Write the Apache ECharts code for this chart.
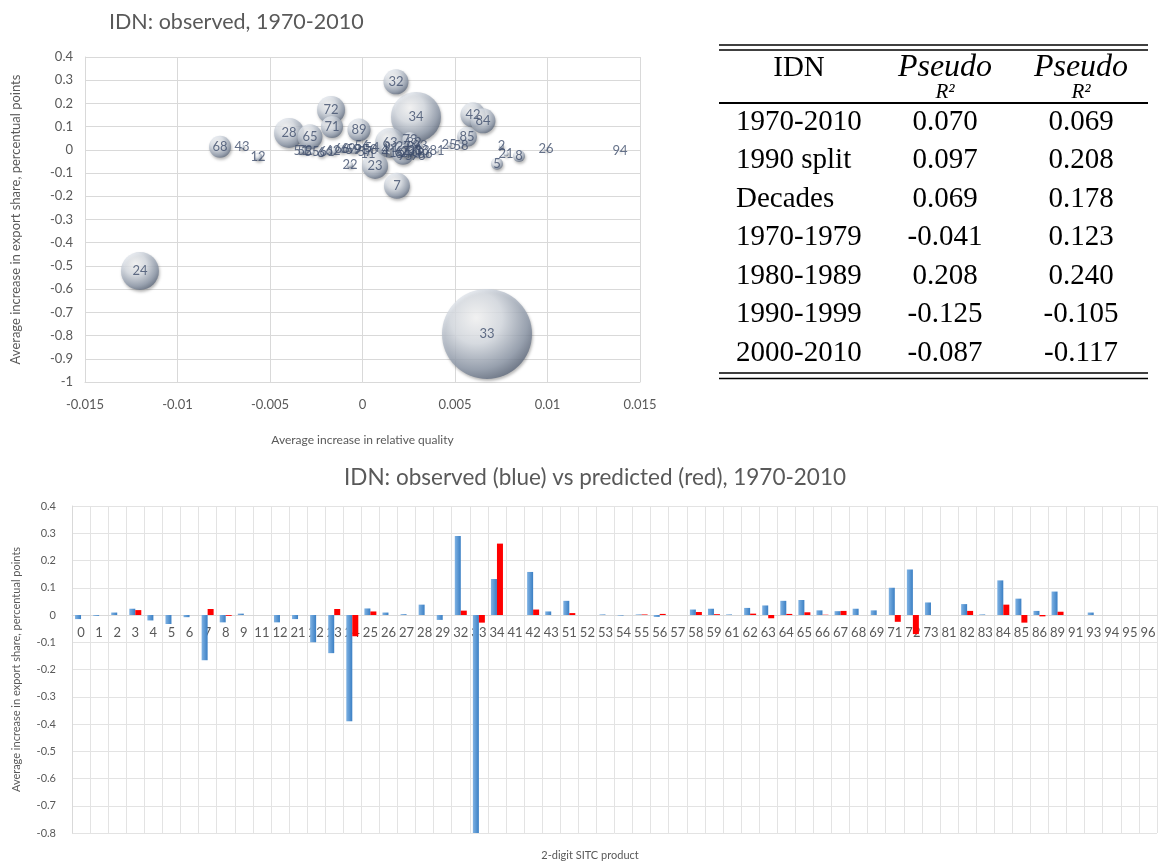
<!DOCTYPE html>
<html>
<head>
<meta charset="utf-8">
<script src="https://cdn.jsdelivr.net/npm/echarts@6/dist/echarts.min.js"></script>
<style>html,body{margin:0;padding:0;background:#fff;}#c{width:1168px;height:862px;}</style>
</head>
<body>
<div id="c"></div>
<script>
// ---------- Scatter (bubble) data ----------
const bubbleNames = ['24','33','34','32','72','71','28','65','89','63','23','7','22','42','84','85','25','58','81','2','21','8','5','26','94','68','43','12','51','52','55','6','61','62','66','69','59','9','57','53','54','56','11','73','82','64','67','27','29','3','0','1','4','41','83','86','91','93','95','96'];
const bubbleX = [-0.01203,0.00673,0.00289,0.00181,-0.00170,-0.00165,-0.00397,-0.00284,-0.00019,0.00149,0.00068,0.00186,-0.00068,0.00597,0.00651,0.00565,0.00468,0.00532,0.00403,0.00751,0.00776,0.00846,0.00727,0.00992,0.01392,-0.00770,-0.00651,-0.00565,-0.00332,-0.00311,-0.00273,-0.00224,-0.00192,-0.00159,-0.00111,-0.00078,-0.00051,-0.00024,0.00014,0.00041,0.00051,-0.00003,0.00030,0.00257,0.00278,0.00219,0.00214,0.00220,0.00243,0.00264,0.00289,0.00305,0.00122,0.00143,0.00322,0.00338,0.00154,0.00311,0.00230,0.00300];
const bubbleY = [-0.522,-0.793,0.142,0.293,0.172,0.099,0.073,0.056,0.086,0.030,-0.069,-0.155,-0.065,0.151,0.125,0.056,0.022,0.017,-0.004,0.017,-0.017,-0.026,-0.060,0.004,-0.004,0.013,0.013,-0.030,-0.004,-0.004,-0.009,-0.013,-0.009,-0.004,0.004,0.004,0.000,0.000,-0.009,0.000,0.009,0.017,-0.017,0.043,0.030,-0.017,-0.009,0.013,-0.013,-0.004,-0.013,0.000,0.000,-0.013,-0.004,-0.017,0.009,0.017,-0.026,-0.026];
const bubbleSize = [38,90,50,25,28,22,30,25,23,30,26,26,6,25,25,20,5,5,4,5,5,12,12,4,2,22,5,8,6,6,5,8,5,8,8,6,8,5,4,4,4,4,3,16,14,22,10,4,6,8,10,4,8,3,4,8,3,5,3,3];

// ---------- Bar data ----------
const categories = ['0','1','2','3','4','5','6','7','8','9','11','12','21','22','23','24','25','26','27','28','29','32','33','34','41','42','43','51','52','53','54','55','56','57','58','59','61','62','63','64','65','66','67','68','69','71','72','73','81','82','83','84','85','86','89','91','93','94','95','96'];
const observed = [-0.015,-0.003,0.009,0.023,-0.02,-0.033,-0.008,-0.166,-0.027,0.005,0,-0.027,-0.015,-0.1,-0.14,-0.39,0.024,0.009,0.003,0.038,-0.018,0.29,-0.8,0.132,0,0.158,0.013,0.052,0,0.002,-0.002,0.002,-0.007,0,0.02,0.023,0.002,0.026,0.035,0.052,0.055,0.017,0.014,0.023,0.017,0.1,0.167,0.046,0,0.04,0.002,0.127,0.06,0.015,0.086,0,0.009,0,0,0];
const predicted = [0,0,0,0.018,0,0,0,0.022,-0.003,0,0,0,0,0,0.022,-0.078,0.013,0,0,0,0,0.016,-0.028,0.262,0,0.02,0,0.007,0,0,0,0.002,0.004,0,0.011,0.003,0,0.005,-0.012,0.004,0.01,0.001,0.015,0,0,-0.025,-0.07,0,0,0.015,0,0.038,-0.028,-0.005,0.012,0,0,0,0,0];

// ---------- Table data ----------
const tableHeader = ['IDN','Pseudo','Pseudo'];
const tableRows = ['1970-2010','1990 split','Decades','1970-1979','1980-1989','1990-1999','2000-2010'];
const tableCol1 = ['0.070','0.097','0.069','-0.041','0.208','-0.125','-0.087'];
const tableCol2 = ['0.069','0.208','0.178','0.123','0.240','-0.105','-0.117'];

// ---------- build ----------
const FONT = 'Lato';
const TXT = '#595959';
const GRID = '#d9d9d9';

const bubbleData = bubbleNames.map((n, i) => ({name: n, value: [bubbleX[i], bubbleY[i], bubbleSize[i]]}))
  .sort((a, b) => b.value[2] - a.value[2]);

const sphere = {
  type: 'radial', x: 0.38, y: 0.32, r: 0.72,
  colorStops: [
    {offset: 0, color: '#ffffff'},
    {offset: 0.4, color: '#dde2e9'},
    {offset: 0.8, color: '#8f9aab'},
    {offset: 1, color: '#5d687b'}
  ]
};

const graphics = [];
const serif = 'Liberation Serif';
const cx0 = 799, cx1 = 945, cx2 = 1081;
const rule = (y, w) => ({type: 'line', shape: {x1: 719, y1: y, x2: 1148, y2: y}, style: {stroke: '#000', lineWidth: w}});
graphics.push(rule(45, 1.6), rule(50, 1.6), rule(103, 1.8), rule(373, 1.6), rule(378.5, 1.6));
graphics.push({type: 'text', x: cx0, y: 68, style: {text: tableHeader[0], font: '29px "' + serif + '"', fill: '#000', align: 'center', verticalAlign: 'middle'}});
[cx1, cx2].forEach((cx, k) => {
  graphics.push({type: 'text', x: cx, y: 68, style: {text: tableHeader[k + 1], font: 'italic 32px "' + serif + '"', fill: '#000', align: 'center', verticalAlign: 'middle'}});
  graphics.push({type: 'text', x: cx, y: 92, style: {text: 'R²', font: 'italic 21px "' + serif + '"', fill: '#000', align: 'center', verticalAlign: 'middle'}});
});
tableRows.forEach((r, i) => {
  const y = 122 + i * 38.5;
  graphics.push({type: 'text', x: 736, y: y, style: {text: r, font: '29px "' + serif + '"', fill: '#000', align: 'left', verticalAlign: 'middle'}});
  graphics.push({type: 'text', x: cx1, y: y, style: {text: tableCol1[i], font: '29px "' + serif + '"', fill: '#000', align: 'center', verticalAlign: 'middle'}});
  graphics.push({type: 'text', x: cx2, y: y, style: {text: tableCol2[i], font: '29px "' + serif + '"', fill: '#000', align: 'center', verticalAlign: 'middle'}});
});

const fmt = d => v => String(+v.toFixed(d));

// bottom grid geometry (for placing category axis at zero)
const g2Top = 506, g2Bottom = 29, g2H = 862 - g2Top - g2Bottom;
const yMin2 = -0.8, yMax2 = 0.4;
const zeroOffset = -(g2H * (0 - yMin2) / (yMax2 - yMin2));

const option = {
  animation: false,
  textStyle: {fontFamily: FONT},
  title: [
    {text: 'IDN: observed, 1970-2010', left: 104, top: 6, textStyle: {fontFamily: FONT, fontSize: 21.5, fontWeight: 'normal', color: TXT}},
    {text: 'IDN: observed (blue) vs predicted (red), 1970-2010', left: 590, textAlign: 'center', top: 461, textStyle: {fontFamily: FONT, fontSize: 22.5, fontWeight: 'normal', color: TXT}},
    {text: '2-digit SITC product', left: 585, textAlign: 'center', top: 845, textStyle: {fontFamily: FONT, fontSize: 11, fontWeight: 'normal', color: TXT}}
  ],
  grid: [
    {left: 85, right: 528, top: 57, bottom: 480},
    {left: 72, right: 11, top: g2Top, bottom: g2Bottom}
  ],
  xAxis: [
    {type: 'value', gridIndex: 0, min: -0.015, max: 0.015, interval: 0.005,
      name: 'Average increase in relative quality', nameLocation: 'middle', nameGap: 52,
      nameTextStyle: {color: TXT, fontSize: 12},
      axisLine: {onZero: false, lineStyle: {color: GRID}}, axisTick: {show: false},
      axisLabel: {color: TXT, fontSize: 13, margin: 16, formatter: fmt(4)},
      splitLine: {lineStyle: {color: GRID}}},
    {type: 'category', gridIndex: 1, data: categories, position: 'bottom', offset: zeroOffset,
      axisLine: {onZero: false, lineStyle: {color: GRID}}, axisTick: {show: false},
      axisLabel: {interval: 0, color: TXT, fontSize: 13, margin: 11},
      splitLine: {show: true, interval: 0, lineStyle: {color: '#e3e3e3'}}}
  ],
  yAxis: [
    {type: 'value', gridIndex: 0, min: -1, max: 0.4, interval: 0.1,
      name: 'Average increase in export share, percentual points', nameLocation: 'middle', nameGap: 63,
      nameTextStyle: {color: TXT, fontSize: 13},
      axisLine: {show: true, onZero: false, lineStyle: {color: GRID}}, axisTick: {show: false},
      axisLabel: {color: TXT, fontSize: 13, margin: 12, formatter: fmt(2)},
      splitLine: {lineStyle: {color: GRID}}},
    {type: 'value', gridIndex: 1, min: yMin2, max: yMax2, interval: 0.1,
      name: 'Average increase in export share, percentual points', nameLocation: 'middle', nameGap: 50,
      nameTextStyle: {color: TXT, fontSize: 11},
      axisLine: {show: true, onZero: false, lineStyle: {color: GRID}}, axisTick: {show: false},
      axisLabel: {color: TXT, fontSize: 11, margin: 16, formatter: fmt(2)},
      splitLine: {lineStyle: {color: '#e3e3e3'}}}
  ],
  series: [
    {type: 'scatter', xAxisIndex: 0, yAxisIndex: 0, data: bubbleData,
      symbolSize: v => v[2],
      itemStyle: {color: sphere, shadowBlur: 3, shadowColor: 'rgba(0,0,0,0.35)', shadowOffsetX: 1, shadowOffsetY: 2},
      label: {show: true, position: 'inside', formatter: p => p.name, color: '#3f4d6c', fontSize: 13, fontFamily: FONT},
      labelLayout: {hideOverlap: false}},
    {type: 'bar', xAxisIndex: 1, yAxisIndex: 1, data: observed, barWidth: 6, barGap: '0%',
      itemStyle: {color: {type: 'linear', x: 0, y: 0, x2: 1, y2: 0, colorStops: [{offset: 0, color: '#7fb2e3'}, {offset: 1, color: '#3a7fc4'}]}}},
    {type: 'bar', xAxisIndex: 1, yAxisIndex: 1, data: predicted, barWidth: 6, barGap: '0%',
      itemStyle: {color: '#ff0000'}}
  ],
  graphic: graphics
};

const chart = echarts.init(document.getElementById('c'), null, {renderer: 'canvas'});
chart.setOption(option);
</script>
</body>
</html>
